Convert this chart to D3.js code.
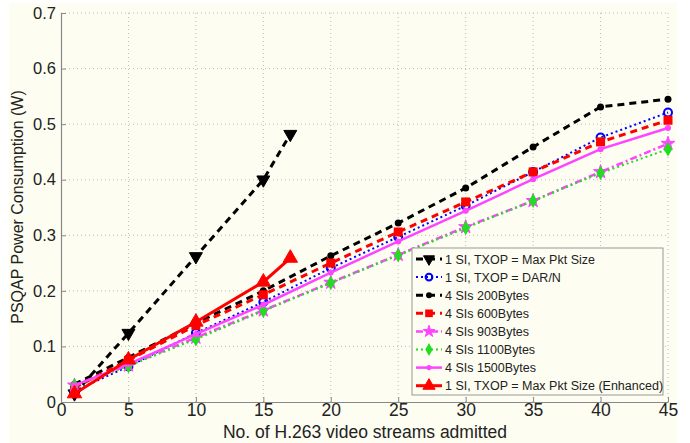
<!DOCTYPE html>
<html><head><meta charset="utf-8">
<script src="https://cdn.jsdelivr.net/npm/d3@7"></script>
<style>body{margin:0;background:#fff;}svg{display:block;font-family:"Liberation Sans",Arial,sans-serif;}</style>
</head><body>
<svg id="c" width="690" height="443"></svg>
<script>
const xFull = [1,5,10,15,20,25,30,35,40,45];
const xShort = [1,5,10,15,17];
const maxPkt   = [0.015,0.124,0.262,0.400,0.482];
const darN     = [0.020,0.064,0.124,0.180,0.241,0.297,0.353,0.414,0.476,0.521];
const b200     = [0.032,0.080,0.142,0.200,0.263,0.322,0.385,0.459,0.531,0.545];
const b600     = [0.026,0.075,0.138,0.193,0.250,0.306,0.360,0.414,0.468,0.507];
const b903     = [0.030,0.066,0.116,0.165,0.215,0.265,0.315,0.362,0.414,0.465];
const b1100    = [0.030,0.065,0.113,0.164,0.214,0.264,0.313,0.362,0.412,0.455];
const b1500    = [0.030,0.068,0.122,0.175,0.233,0.289,0.344,0.401,0.455,0.493];
const enhanced = [0.015,0.076,0.144,0.216,0.259];
const xTicks = [0,5,10,15,20,25,30,35,40,45];
const yTicks = [0,0.1,0.2,0.3,0.4,0.5,0.6,0.7];
const legendLabels = ["1 SI, TXOP = Max Pkt Size","1 SI, TXOP = DAR/N","4 SIs 200Bytes","4 SIs 600Bytes","4 SIs 903Bytes","4 SIs 1100Bytes","4 SIs 1500Bytes","1 SI, TXOP = Max Pkt Size (Enhanced)"];

const series = [
  {xs:xShort, ys:maxPkt, color:"#000", dash:"7,5", w:3, marker:"triDown", ms:9},
  {xs:xFull, ys:darN, color:"#0000ff", dash:"2,3", w:2, marker:"circle", ms:4},
  {xs:xFull, ys:b200, color:"#000", dash:"7,5", w:3, marker:"dot", ms:3.5},
  {xs:xFull, ys:b600, color:"#ff0000", dash:"7,5", w:3, marker:"square", ms:9},
  {xs:xFull, ys:b903, color:"#ff44ff", dash:"7,3,2,3", w:2.5, marker:"star", ms:11},
  {xs:xFull, ys:b1100, color:"#22dd22", dash:"2,3", w:2, marker:"diamond", ms:8},
  {xs:xFull, ys:b1500, color:"#ff44ff", dash:null, w:2.5, marker:"dot", ms:3},
  {xs:xShort, ys:enhanced, color:"#ff0000", dash:null, w:3, marker:"triUp", ms:10}
];

const svg = d3.select("#c");
svg.append("rect").attr("x",9).attr("y",3).attr("width",668).attr("height",440).attr("fill","#fdfdf1");

const L=61, R=668, T=13, B=402;
const x = d3.scaleLinear().domain([0,45]).range([L,R]);
const y = d3.scaleLinear().domain([0,0.7]).range([B,T]);

// grid
const g = svg.append("g");
g.selectAll(".gx").data(xTicks.slice(1)).enter().append("line")
  .attr("x1",d=>x(d)).attr("x2",d=>x(d)).attr("y1",B).attr("y2",T)
  .attr("stroke","#bbb").attr("stroke-width",1).attr("stroke-dasharray","1,3");
g.selectAll(".gy").data(yTicks.slice(1)).enter().append("line")
  .attr("x1",L).attr("x2",R).attr("y1",d=>y(d)).attr("y2",d=>y(d))
  .attr("stroke","#bbb").attr("stroke-width",1).attr("stroke-dasharray","1,3");

// axes
const xa = svg.append("g").attr("transform",`translate(0,${B})`)
  .call(d3.axisBottom(x).tickValues(xTicks).tickFormat(d3.format("d")).tickSizeInner(-5).tickSizeOuter(0).tickPadding(3));
const ya = svg.append("g").attr("transform",`translate(${L},0)`)
  .call(d3.axisLeft(y).tickValues(yTicks).tickFormat(d=>d===0?"0":d3.format(".1f")(d)).tickSizeInner(-5).tickSizeOuter(0).tickPadding(5));
[xa,ya].forEach(a=>{
  a.select(".domain").attr("stroke","#888").attr("stroke-width",1.2);
  a.selectAll(".tick line").attr("stroke","#888");
  a.selectAll("text").attr("fill","#222").attr("font-family","Liberation Sans, Arial, sans-serif");
});
xa.selectAll("text").attr("font-size",17.5).attr("dy","0.62em");
ya.selectAll("text").attr("font-size",16.5);

// axis labels
svg.append("text").attr("x",365).attr("y",438).attr("text-anchor","middle")
  .attr("font-size",17.5).attr("fill","#222").text("No. of H.263 video streams admitted");
svg.append("text").attr("transform","translate(23,207) rotate(-90)").attr("text-anchor","middle")
  .attr("font-size",16).attr("fill","#222").text("PSQAP Power Consumption (W)");

function drawMarker(sel, m, cx, cy, color, s){
  if(m==="triDown"){
    sel.append("path").attr("d",d3.symbol(d3.symbolTriangle, s*s*0.9)())
      .attr("transform",`translate(${cx},${cy}) rotate(180)`).attr("fill",color).attr("stroke",color);
  } else if(m==="triUp"){
    sel.append("path").attr("d",d3.symbol(d3.symbolTriangle, s*s*0.9)())
      .attr("transform",`translate(${cx},${cy})`).attr("fill",color).attr("stroke",color);
  } else if(m==="circle"){
    sel.append("circle").attr("cx",cx).attr("cy",cy).attr("r",s).attr("fill","none").attr("stroke",color).attr("stroke-width",2);
  } else if(m==="dot"){
    sel.append("circle").attr("cx",cx).attr("cy",cy).attr("r",s).attr("fill",color);
  } else if(m==="square"){
    sel.append("rect").attr("x",cx-s/2).attr("y",cy-s/2).attr("width",s).attr("height",s).attr("fill",color);
  } else if(m==="star"){
    sel.append("path").attr("d",d3.symbol(d3.symbolStar, s*s*0.5)())
      .attr("transform",`translate(${cx},${cy})`).attr("fill",color).attr("stroke",color);
  } else if(m==="diamond"){
    sel.append("path").attr("d",d3.symbol(d3.symbolDiamond, s*s*0.6)())
      .attr("transform",`translate(${cx},${cy})`).attr("fill",color).attr("stroke",color).attr("stroke-width",1.5);
  }
}

const line = d3.line().x(d=>x(d[0])).y(d=>y(d[1]));
const plot = svg.append("g");
series.forEach(s=>{
  const pts = s.xs.map((v,i)=>[v,s.ys[i]]);
  const p = plot.append("path").attr("d",line(pts)).attr("fill","none")
    .attr("stroke",s.color).attr("stroke-width",s.w);
  if(s.dash) p.attr("stroke-dasharray",s.dash);
  pts.forEach(d=>drawMarker(plot, s.marker, x(d[0]), y(d[1]), s.color, s.ms));
});

// legend
const lg = svg.append("g");
lg.append("rect").attr("x",412).attr("y",248).attr("width",251).attr("height",147)
  .attr("fill","#fdfdf1").attr("stroke","#999").attr("stroke-width",1);
series.forEach((s,i)=>{
  const cy = 259 + i*18.1;
  const l = lg.append("line").attr("x1",416).attr("x2",442).attr("y1",cy).attr("y2",cy)
    .attr("stroke",s.color).attr("stroke-width",s.w);
  if(s.dash) l.attr("stroke-dasharray",s.dash);
  drawMarker(lg, s.marker, 429, cy, s.color, s.ms*0.85);
  lg.append("text").attr("x",445).attr("y",cy+4.5).attr("font-size",12.5).attr("fill","#222").text(legendLabels[i]);
});
</script>
</body></html>
